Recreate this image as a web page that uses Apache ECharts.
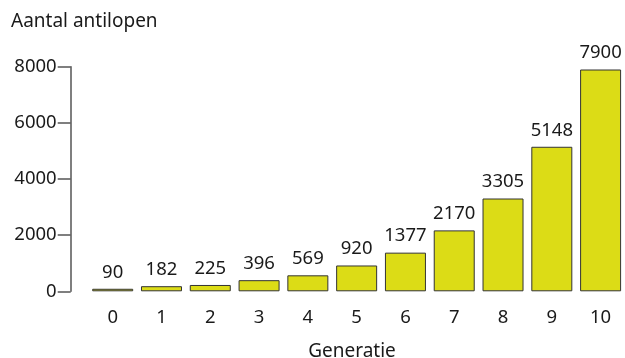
<!DOCTYPE html>
<html>
<head>
<meta charset="utf-8">
<script src="https://cdn.jsdelivr.net/npm/echarts@6/dist/echarts.min.js"></script>
<style>
  html, body { margin: 0; padding: 0; background: #ffffff; }
  #chart { width: 625px; height: 358px; }
</style>
</head>
<body>
<div id="chart"></div>
<script>
// generaties en aantallen
const generaties = ['0', '1', '2', '3', '4', '5', '6', '7', '8', '9', '10']
const aantallen = [90, 182, 225, 396, 569, 920, 1377, 2170, 3305, 5148, 7900]
const yTicks = [0, 2000, 4000, 6000, 8000]

const font = '"Noto Sans", sans-serif'
const fs = 18.5
const chart = echarts.init(document.getElementById('chart'))

chart.setOption({
  animation: false,
  textStyle: { fontFamily: font },
  title: [
    {
      text: 'Aantal antilopen',
      left: 11,
      top: 12,
      padding: 0,
      textStyle: { fontFamily: font, fontSize: 19, fontWeight: 'normal', color: '#1a1a1a' }
    },
    {
      text: 'Generatie',
      left: 352,
      top: 342,
      padding: 0,
      textAlign: 'center',
      textStyle: { fontFamily: font, fontSize: 19, fontWeight: 'normal', color: '#1a1a1a' }
    }
  ],
  grid: { left: 88.3, right: -2.3, top: 66.7, bottom: 66.7 },
  xAxis: {
    type: 'category',
    data: generaties,
    axisLine: { show: false },
    axisTick: { show: false },
    axisLabel: { fontFamily: font, fontSize: fs, color: '#1a1a1a', margin: 17 }
  },
  yAxis: {
    type: 'value',
    min: yTicks[0],
    max: yTicks[yTicks.length - 1],
    interval: 2000,
    offset: 17.6,
    splitLine: { show: false },
    axisLine: { show: true, lineStyle: { color: '#555555', width: 1.5 } },
    axisTick: { show: true, length: 13, lineStyle: { color: '#555555', width: 1.5 } },
    axisLabel: {
      fontFamily: font,
      fontSize: fs,
      color: '#1a1a1a',
      margin: 14,
      formatter: v => String(v)
    }
  },
  series: [
    {
      type: 'bar',
      data: aantallen,
      barWidth: 41,
      itemStyle: { color: '#dcdc16', borderColor: '#333333', borderWidth: 1 },
      label: {
        show: true,
        position: 'top',
        distance: 7,
        fontFamily: font,
        fontSize: fs,
        color: '#1a1a1a'
      }
    }
  ]
})
</script>
</body>
</html>
